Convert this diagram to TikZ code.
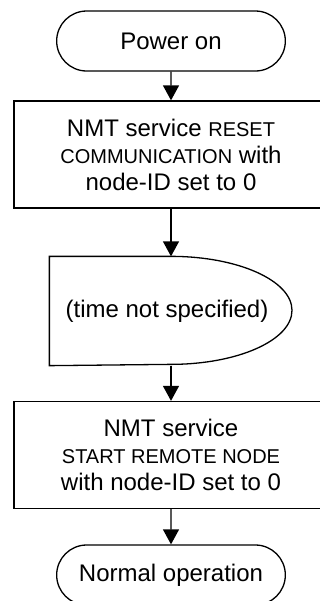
\documentclass[tikz,border=0pt]{standalone}
\usepackage{fontspec}
\setmainfont{Liberation Sans}
\usetikzlibrary{arrows.meta, shapes.misc}

\newcommand{\capsize}[1]{{\fontsize{10}{13.5}\selectfont #1}}

\begin{document}
\begin{tikzpicture}[x=0.5pt, y=-0.5pt, >={Triangle[width=8pt, length=7.5pt]},
		font=\fontsize{12}{13.5}\selectfont, line width=0.65pt,
		terminal/.style={draw, rounded rectangle, minimum width=121pt, minimum height=30pt},
		process/.style={draw, rectangle, align=center, minimum width=157pt, minimum height=53.5pt},
		delaybox/.style={rectangle, minimum width=121pt, minimum height=54pt}]
		
		% Page frame, the boxes run past the right edge
		\clip (0,0) rectangle (320,601);
		
		% Start of the chart
		\node[terminal] (power) at (171,41) {Power on};
		
		% First NMT command
		\node[process] (reset) at (171,154.5) {NMT service \capsize{RESET}\\ \capsize{COMMUNICATION} with\\ node-ID set to 0};
		
		% Waiting step, drawn as a delay shape
		\node[delaybox] (wait) at (171,311) {};
		\draw (wait.north west) -- (wait.north) arc[start angle=90, end angle=-90, x radius=60.5pt, y radius=27pt] -- (wait.south west) -- cycle;
		\node at (167,311) {(time not specified)};
		
		% Second NMT command
		\node[process] (start) at (171,455) {NMT service\\ \capsize{START REMOTE NODE}\\ with node-ID set to 0};
		
		% End of the chart
		\node[terminal] (normal) at (171,575) {Normal operation};
		
		% Arrows between the steps
		\draw[->] (power) -- (reset);
		\draw[->] (reset) -- (wait);
		\draw[->] (wait) -- (start);
		\draw[->] (start) -- (normal);
		
	\end{tikzpicture}
\end{document}
